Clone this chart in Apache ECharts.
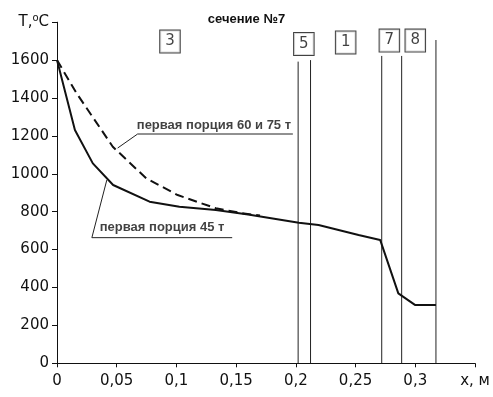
<!DOCTYPE html>
<html><head><meta charset="utf-8">
<script src="https://cdn.jsdelivr.net/npm/echarts@6/dist/echarts.min.js"></script>
<style>html,body{margin:0;padding:0;background:#fff}#c{width:493px;height:397px}</style>
</head><body><div id="c"></div>
<script>
// Solid curve: first portion 45 t
const xSolid = [0, 0.015, 0.03, 0.047, 0.0775, 0.1025, 0.133, 0.16, 0.2025, 0.219, 0.2525, 0.2706, 0.2858, 0.2997, 0.3173];
const tSolid = [1600, 1231, 1055, 941, 853, 826, 809, 785, 742, 730, 677, 651, 369, 308, 308];
// Dashed curve: first portion 60 and 75 t
const xDashed = [0, 0.0164, 0.0467, 0.0747, 0.101, 0.133, 0.155, 0.17];
const tDashed = [1600, 1425, 1143, 976, 888, 818, 792, 780];
// Zone boundaries (vertical lines)
const boundaryX = [0.2019, 0.2123, 0.2719, 0.2886, 0.3173];
const boundaryTop = [1592, 1600, 1622, 1622, 1706];
// Zone labels (boxed numbers)
const zoneNames = ['3', '5', '1', '7', '8'];
const zoneX = [0.0946, 0.2067, 0.2417, 0.2783, 0.3];
const zoneT = [1698, 1685, 1693, 1703, 1703];
// Annotations
const noteTexts = ['первая порция 60 и 75 т', 'первая порция 45 т'];
const noteTextX = [0.0668, 0.0358];
const noteTextT = [1257, 716];
const leaderX = [[0.0508, 0.0675, 0.1975], [0.0417, 0.0292, 0.1467]];
const leaderT = [[1136, 1210, 1210], [967, 663, 663]];
const titleText = 'сечение №7';
const xName = 'x, м';
const yName = ['T,', 'o', 'C'];
const xMax = 0.35, yMax = 1800;

const font = 'DejaVu Sans';
const chart = echarts.init(document.getElementById('c'));
const series = [];
series.push({type:'line', data: xSolid.map((x,i)=>[x,tSolid[i]]), symbol:'none', lineStyle:{color:'#111', width:2}, z:5});
series.push({type:'line', data: xDashed.map((x,i)=>[x,tDashed[i]]), symbol:'none', lineStyle:{color:'#111', width:2, type:[9,5]}, z:5});
boundaryX.forEach((x,i)=>{
  series.push({type:'line', data:[[x,0],[x,boundaryTop[i]]], symbol:'none', lineStyle:{color:'#222', width:1}, z:3});
});
leaderX.forEach((xs,i)=>{
  series.push({type:'line', data: xs.map((x,j)=>[x, leaderT[i][j]]), symbol:'none', lineStyle:{color:'#222', width:1}, z:4});
});
series.push({type:'scatter', symbolSize:0, data: zoneNames.map((n,i)=>({value:[zoneX[i], zoneT[i]], name:n})),
  label:{show:true, position:[0,0], align:'center', verticalAlign:'middle', formatter:p=>p.name,
    fontFamily:font, fontSize:15, color:'#111', borderColor:'#111', borderWidth:1, padding:[4,5,3,5], backgroundColor:'#fff'}, z:6});
series.push({type:'scatter', symbolSize:0, data: noteTexts.map((n,i)=>({value:[noteTextX[i], noteTextT[i]], name:n})),
  label:{show:true, position:[0,0], align:'left', verticalAlign:'middle', formatter:p=>p.name,
    fontFamily:'Liberation Sans', fontSize:13, fontWeight:'bold', color:'#111'}, z:6});

chart.setOption({
  animation:false,
  backgroundColor:'#fff',
  title:{text:titleText, left:'center', top:8, textStyle:{fontFamily:'Liberation Sans', fontSize:13, fontWeight:'bold', color:'#111'}},
  grid:{left:57, right:18, top:22.2, bottom:33.7, containLabel:false},
  xAxis:{type:'value', min:0, max:xMax, interval:0.05, splitLine:{show:false},
    axisLine:{lineStyle:{color:'#111', width:1}}, axisTick:{show:true, length:4, lineStyle:{color:'#111'}},
    axisLabel:{fontFamily:font, fontSize:15, color:'#111', margin:10,
      formatter:v=> Math.abs(v-xMax)<1e-9 ? xName : String(+v.toFixed(2)).replace('.',',')}},
  yAxis:{type:'value', min:0, max:yMax, interval:200, splitLine:{show:false},
    axisLine:{show:true, lineStyle:{color:'#111', width:1}}, axisTick:{show:true, length:5, lineStyle:{color:'#111'}},
    axisLabel:{fontFamily:font, fontSize:15, color:'#111', margin:8,
      formatter:v=> v===yMax ? '{a|'+yName[0]+'}{s|'+yName[1]+'}{a|'+yName[2]+'}' : String(v),
      rich:{a:{fontFamily:font, fontSize:15, color:'#111'}, s:{fontFamily:font, fontSize:10, color:'#111', verticalAlign:'top', padding:[0,0,8,0]}}}},
  series
});
</script></body></html>
